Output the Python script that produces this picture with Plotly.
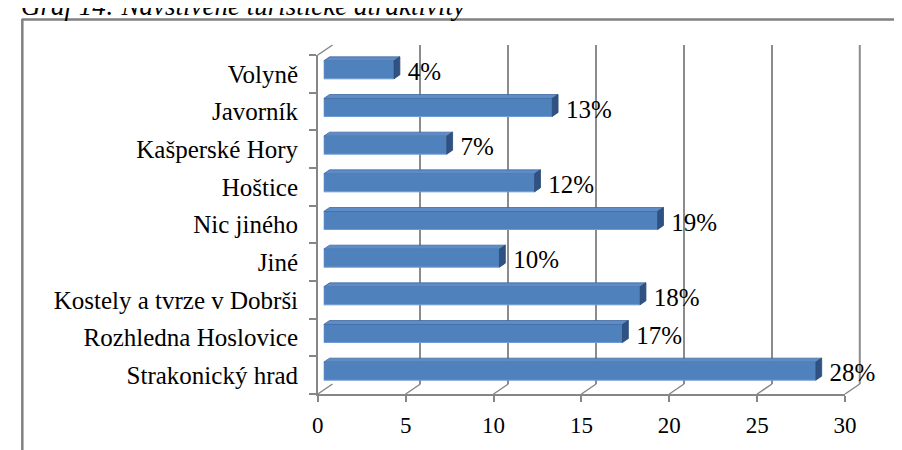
import plotly.graph_objects as go

# ---- data (bottom -> top) ----
categories = ["Strakonický hrad", "Rozhledna Hoslovice", "Kostely a tvrze v Dobrši",
              "Jiné", "Nic jiného", "Hoštice", "Kašperské Hory", "Javorník", "Volyně"]
values = [28, 17, 18, 10, 19, 12, 7, 13, 4]
value_labels = [f"{v}%" for v in values]
x_ticks = [0, 5, 10, 15, 20, 25, 30]
title_text = "Graf 14: Navštívené turistické atraktivity"

# ---- geometry (pixels) ----
W, H = 902, 450
FX0, FX1, FYT, FYB = 310, 848, 47, 386      # front plane of the 3-D box
BDX, BDY = 15, -10                          # depth offset of back wall
PDX, PDY = 6, -4                            # plane of the bar fronts
XMAX = 30
px_per_x = (FX1 - FX0) / XMAX
px_per_cat = (FYB - FYT) / len(categories)

def px(x):
    return x / W

def py(y):
    return 1 - y / H

FONT = "'Liberation Serif', 'Times New Roman', Times, serif"
GRID = "#8c8c8c"
AXIS = "#868686"

fig = go.Figure()

# bars (front faces)
ys = list(range(len(categories)))
bar_h = 18 / px_per_cat
dx = 6 / px_per_x
dy = 4 / px_per_cat
fig.add_trace(go.Bar(
    x=values, y=ys, orientation="h", width=bar_h,
    marker=dict(color="#4f81bd", line=dict(color="#6f9bd3", width=1)),
    xaxis="x3", yaxis="y3", showlegend=False, hoverinfo="skip"))

# top faces and side faces of the 3-D bars
tx, ty, sx, sy = [], [], [], []
for v, c in zip(values, ys):
    t = c + bar_h / 2
    b = c - bar_h / 2
    tx += [0, v, v + dx, dx, 0, None]
    ty += [t, t, t + dy, t + dy, t, None]
    sx += [v, v + dx, v + dx, v, v, None]
    sy += [b, b + dy, t + dy, t, b, None]
fig.add_trace(go.Scatter(x=tx, y=ty, fill="toself", fillcolor="#5d8cc8",
                         line=dict(color="#3f6aa0", width=0.8), mode="lines",
                         xaxis="x3", yaxis="y3", showlegend=False, hoverinfo="skip"))
fig.add_trace(go.Scatter(x=sx, y=sy, fill="toself", fillcolor="#2f5283",
                         line=dict(color="#2a4a76", width=0.8), mode="lines",
                         xaxis="x3", yaxis="y3", showlegend=False, hoverinfo="skip"))

# value labels
fig.add_trace(go.Scatter(
    x=[v + dx + 8 / px_per_x for v in values], y=[c - 0.1 for c in ys],
    mode="text", text=value_labels, textposition="middle right",
    textfont=dict(family=FONT, size=25, color="black"),
    xaxis="x3", yaxis="y3", showlegend=False, hoverinfo="skip", cliponaxis=False))

# invisible trace to activate the front category axis
fig.add_trace(go.Scatter(x=[None] * len(categories), y=categories, mode="markers",
                         xaxis="x", yaxis="y", showlegend=False, hoverinfo="skip"))
# invisible trace for the back wall subplot
fig.add_trace(go.Scatter(x=[None], y=[None], mode="markers",
                         xaxis="x2", yaxis="y2", showlegend=False, hoverinfo="skip"))

shapes = []
# floor diagonals from each front tick to the back wall
for t in x_ticks:
    fx = FX0 + t * px_per_x
    shapes.append(dict(type="line", xref="paper", yref="paper",
                       x0=px(fx), y0=py(FYB), x1=px(fx + BDX), y1=py(FYB + BDY),
                       line=dict(color=AXIS, width=1.5), layer="below"))
# back wall right edge (gridline at the end of the range)
shapes.append(dict(type="line", xref="paper", yref="paper",
                   x0=px(FX1 + BDX), y0=py(FYB + BDY), x1=px(FX1 + BDX), y1=py(FYT + BDY),
                   line=dict(color=GRID, width=2), layer="below"))
# top-left corner diagonal
shapes.append(dict(type="line", xref="paper", yref="paper",
                   x0=px(FX0), y0=py(FYT), x1=px(FX0 + BDX), y1=py(FYT + BDY),
                   line=dict(color=AXIS, width=1.5), layer="below"))
# outer frame (extends past the right and bottom edges)
shapes.append(dict(type="line", xref="paper", yref="paper",
                   x0=px(8), y0=py(11.5), x1=px(W + 5), y1=py(11.5),
                   line=dict(color="#808080", width=2.5)))
shapes.append(dict(type="line", xref="paper", yref="paper",
                   x0=px(8.5), y0=py(11), x1=px(8.5), y1=py(H + 5),
                   line=dict(color="#808080", width=2.5)))

fig.update_layout(
    width=W, height=H,
    margin=dict(l=0, r=0, t=0, b=0),
    paper_bgcolor="white", plot_bgcolor="rgba(0,0,0,0)",
    shapes=shapes,
    xaxis=dict(domain=[px(FX0), px(FX1)], range=[0, XMAX], tickvals=x_ticks,
               anchor="y", showgrid=False, zeroline=False,
               showline=True, linecolor=AXIS, linewidth=1.5,
               ticks="outside", ticklen=6, tickcolor=AXIS, tickwidth=1.5,
               ticklabelstandoff=4,
               tickfont=dict(family=FONT, size=23, color="black")),
    yaxis=dict(domain=[py(FYB), py(FYT)], type="category",
               categoryorder="array", categoryarray=categories,
               range=[-0.5, len(categories) - 0.5], anchor="x",
               showgrid=False, zeroline=False, tickson="boundaries",
               showline=True, linecolor=AXIS, linewidth=1.5,
               ticks="outside", ticklen=7, tickcolor=AXIS, tickwidth=1.5,
               ticklabelstandoff=13,
               tickfont=dict(family=FONT, size=25, color="black")),
    xaxis2=dict(domain=[px(FX0 + BDX), px(FX1 + BDX)], range=[0, XMAX],
                tickvals=x_ticks, anchor="y2", showgrid=True, gridcolor=GRID,
                gridwidth=2, zeroline=False, showline=False,
                showticklabels=False, ticks=""),
    yaxis2=dict(domain=[py(FYB + BDY), py(FYT + BDY)], range=[0, 1], anchor="x2",
                showgrid=False, zeroline=False, showline=False,
                showticklabels=False, ticks=""),
    xaxis3=dict(domain=[px(FX0 + PDX), px(FX1 + PDX)], range=[0, XMAX], anchor="y3",
                visible=False),
    yaxis3=dict(domain=[py(FYB + PDY), py(FYT + PDY)],
                range=[-0.5, len(categories) - 0.5], anchor="x3", visible=False),
    annotations=[dict(text="<i>" + title_text + "</i>", xref="paper", yref="paper",
                      x=px(5), y=py(-2), xanchor="left", yanchor="middle",
                      showarrow=False,
                      font=dict(family=FONT, size=27, color="black"))],
    font=dict(family=FONT),
)

fig.write_html("out.html")
